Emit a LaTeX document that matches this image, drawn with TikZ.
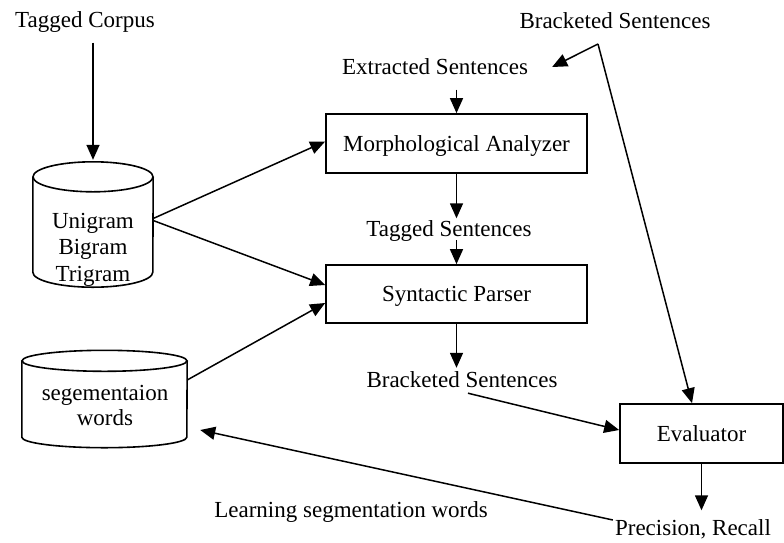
\documentclass[tikz,border=0pt]{standalone}
\usepackage{fontspec}
\setmainfont{Liberation Serif}
\usetikzlibrary{arrows.meta}
\begin{document}
\begin{tikzpicture}[x=1pt,y=-1pt,
  txtfont/.style={font=\fontsize{23}{24.5}\selectfont},
  lbl/.style={txtfont, inner sep=0pt, text height=15pt, text depth=0pt},
  box/.style={txtfont, draw, line width=1.7pt, minimum width=261pt, minimum height=59pt, inner sep=0pt, text height=15pt, text depth=0pt},
  cyltxt/.style={inner sep=0pt, align=center},
  cylbody/.style={inner sep=0pt, draw=none},
  cyl/.style={line width=1.6pt},
  conn/.style={line width=1.5pt},
  arr/.style={conn, -{Triangle[length=15pt,width=13pt]}}]
\useasboundingbox (0,0) rectangle (784,542);

% text labels and boxes
\node[lbl] (tc) at (85,20) {Tagged Corpus};
\node[lbl] (bs1) at (615,21) {Bracketed Sentences};
\node[lbl] (es) at (435,67) {Extracted Sentences};
\node[box] (morph) at (456.5,143.5) {Morphological Analyzer};
\node[lbl] (ts) at (449,229) {Tagged Sentences};
\node[box, minimum height=58pt] (syn) at (456.5,294) {Syntactic Parser};
\node[lbl] (bs2) at (462,380) {Bracketed Sentences};
\node[box, minimum width=163pt] (eval) at (701.5,433.5) {Evaluator};
\node[lbl] (pr) at (693,528) {Precision, Recall};
\node[lbl] (lsw) at (351,510) {Learning segmentation words};

% cylinders
\node[cylbody, minimum width=120pt, minimum height=95pt] (ngram) at (93,224.5) {};
\draw[cyl] (ngram.north west) -- (ngram.south west)
  arc[start angle=180, end angle=0, x radius=60, y radius=15] -- (ngram.north east);
\draw[cyl] (ngram.north) ellipse[x radius=60, y radius=15];
\node[cyltxt, font=\fontsize{23}{26.5}\selectfont] (ngramtxt) at (93,249.5) {Unigram\\Bigram\\Trigram};

\node[cylbody, minimum width=165pt, minimum height=76pt] (segm) at (104.5,399) {};
\draw[cyl] (segm.north west) -- (segm.south west)
  arc[start angle=180, end angle=0, x radius=82.5, y radius=10.5] -- (segm.north east);
\draw[cyl] (segm.north) ellipse[x radius=82.5, y radius=10.5];
\node[cyltxt, font=\fontsize{23}{24.5}\selectfont] (segmtxt) at (105,405.5) {segementaion\\words};

% connectors
\draw[arr, shorten <=15pt] (tc.south -| ngram.north) -- ([yshift=17pt]ngram.north);
\draw[arr] ([yshift=6pt]ngram.east) -- ([yshift=2pt]morph.west);
\draw[arr] ([yshift=4pt]ngram.east) -- ([yshift=9pt]syn.west);
\draw[arr] ([yshift=19pt]segm.east) -- ([yshift=-9pt]syn.west);
\draw[arr, shorten <=15pt] (es.south -| morph.north) -- (morph.north);
\draw[arr, shorten >=3pt] (morph.south) -- (morph.south |- ts.north);
\draw[arr, shorten <=3.5pt] (ts.south -| syn.north) -- (syn.north);
\draw[arr, shorten >=4.5pt] (syn.south) -- (syn.south |- bs2.north);
\draw[arr] ([xshift=6pt,yshift=-5.5pt]bs2.south) -- ([yshift=3.5pt]eval.west);
\coordinate (bsk) at (598,44);
\draw[arr] (bsk) -- ([xshift=24pt]es.east);
\draw[arr] (bsk) -- ([xshift=-9.5pt]eval.north);
\draw[arr, shorten >=10pt] (eval.south) -- (eval.south |- pr.north);
\draw[arr] ([xshift=-2pt,yshift=8pt]pr.west) -- ([xshift=13pt,yshift=-31pt]segm.east);
\end{tikzpicture}
\end{document}
